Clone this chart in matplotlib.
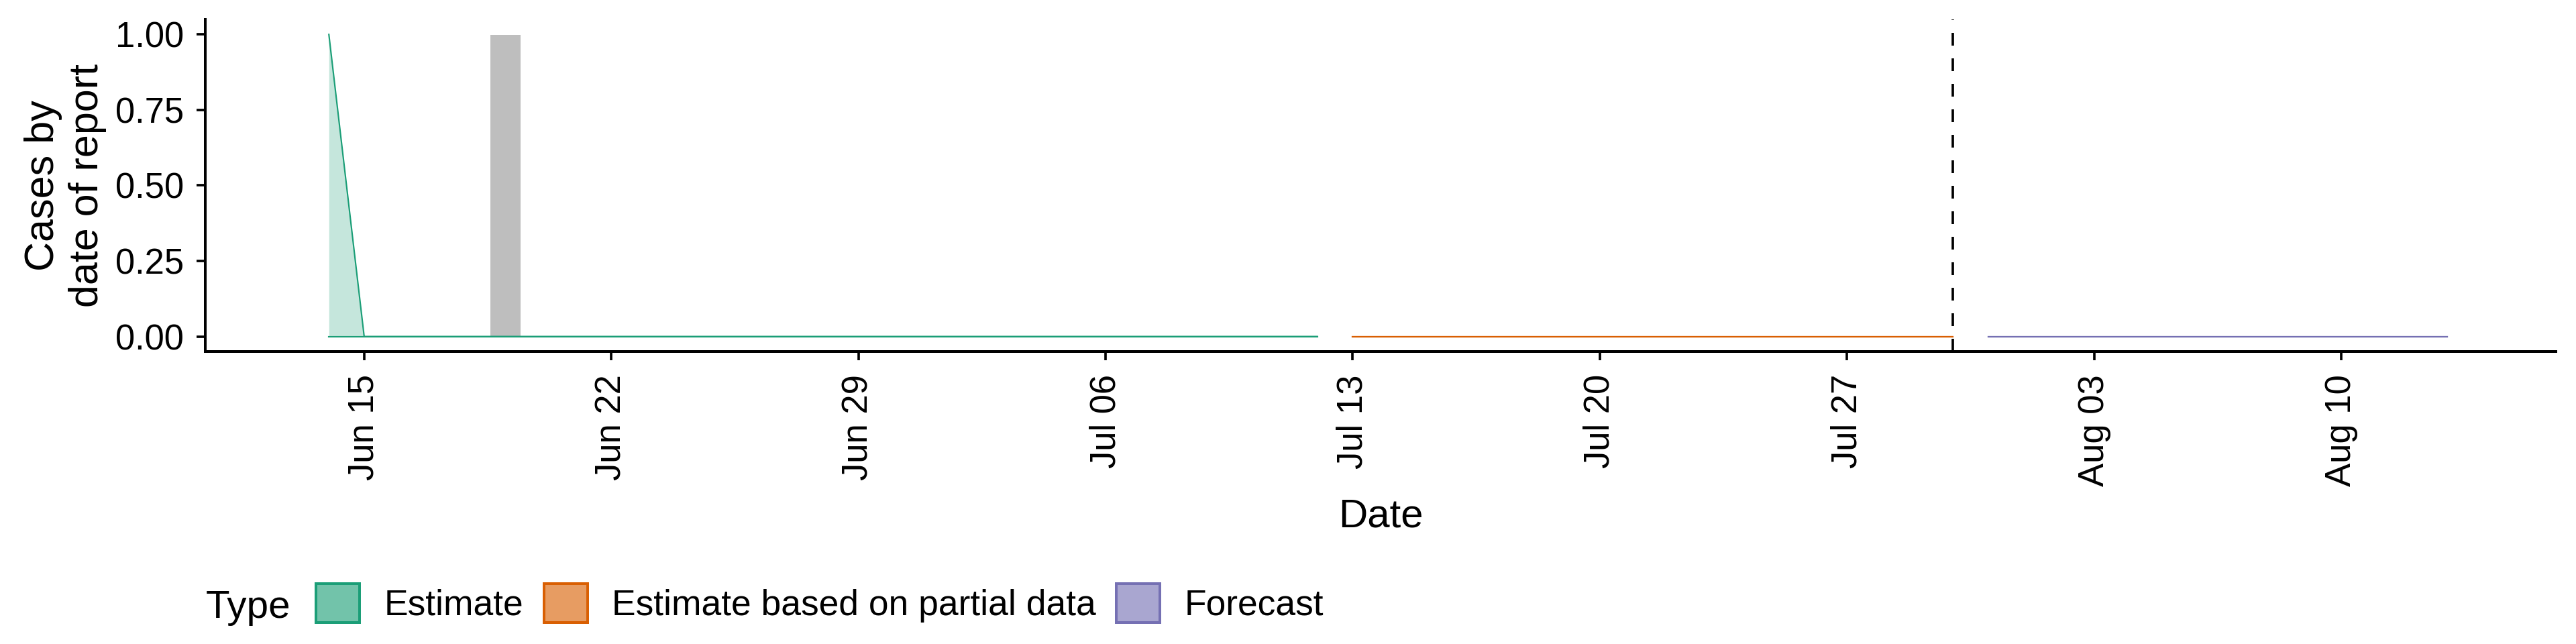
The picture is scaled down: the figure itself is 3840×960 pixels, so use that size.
import pandas as pd
import matplotlib
matplotlib.use("Agg")
import matplotlib.pyplot as plt
import matplotlib.dates as mdates
from matplotlib.colors import to_rgba
from matplotlib.patches import Patch

plt.rcParams["font.family"] = ["Liberation Sans", "DejaVu Sans"]
plt.rcParams["lines.scale_dashes"] = False

# ----------------------------------------------------------
# data
# ----------------------------------------------------------
types = ["Estimate", "Estimate based on partial data", "Forecast"]
type_colours = ["#1B9E77", "#D95F02", "#7570B3"]

# Estimate: Jun 14 - Jul 12
est_dates = pd.date_range("2020-06-14", "2020-07-12", freq="D")
est_upper = [1, 0, 0, 0, 0, 0, 0, 0, 0, 0,
             0, 0, 0, 0, 0, 0, 0, 0, 0, 0,
             0, 0, 0, 0, 0, 0, 0, 0, 0]
est_lower = [0, 0, 0, 0, 0, 0, 0, 0, 0, 0,
             0, 0, 0, 0, 0, 0, 0, 0, 0, 0,
             0, 0, 0, 0, 0, 0, 0, 0, 0]

# Estimate based on partial data: Jul 13 - Jul 30
partial_dates = pd.date_range("2020-07-13", "2020-07-30", freq="D")
partial_upper = [0, 0, 0, 0, 0, 0, 0, 0, 0,
                 0, 0, 0, 0, 0, 0, 0, 0, 0]
partial_lower = [0, 0, 0, 0, 0, 0, 0, 0, 0,
                 0, 0, 0, 0, 0, 0, 0, 0, 0]

# Forecast: Jul 31 - Aug 13
forecast_dates = pd.date_range("2020-07-31", "2020-08-13", freq="D")
forecast_upper = [0, 0, 0, 0, 0, 0, 0,
                  0, 0, 0, 0, 0, 0, 0]
forecast_lower = [0, 0, 0, 0, 0, 0, 0,
                  0, 0, 0, 0, 0, 0, 0]

# reported cases (grey bars)
report_dates = pd.to_datetime(["2020-06-19"])
report_cases = [1]

forecast_date = pd.Timestamp("2020-07-30")

y_ticks = [0, 0.25, 0.5, 0.75, 1.0]
x_ticks = pd.date_range("2020-06-15", "2020-08-10", freq="7D")

# ----------------------------------------------------------
# plot
# ----------------------------------------------------------
fig = plt.figure(figsize=(16, 4), dpi=240)
ax = fig.add_axes([0.0797, 0.454, 0.9125, 0.516])

ax.bar(report_dates, report_cases, width=0.9, color="#BEBEBE",
       edgecolor="white", linewidth=0.6, zorder=1)

series = [
    (est_dates, est_lower, est_upper),
    (partial_dates, partial_lower, partial_upper),
    (forecast_dates, forecast_lower, forecast_upper),
]
for (dates, lower, upper), colour in zip(series, type_colours):
    ax.fill_between(dates, lower, upper, color=colour, alpha=0.25,
                    linewidth=0, zorder=2)
    ax.plot(dates, upper, color=colour, linewidth=0.65, zorder=3)
    ax.plot(dates, lower, color=colour, linewidth=0.65, zorder=3)

ax.axvline(forecast_date, color="black", linewidth=1.1,
           linestyle=(0, (5.7, 5.7)), zorder=4)

ax.set_xlim(pd.Timestamp("2020-06-10 12:00"), pd.Timestamp("2020-08-16 02:00"))
ax.set_ylim(-0.05, 1.05)
ax.set_yticks(y_ticks)
ax.yaxis.set_major_formatter(plt.FormatStrFormatter("%.2f"))
ax.set_xticks(x_ticks)
ax.xaxis.set_major_formatter(mdates.DateFormatter("%b %d"))
plt.setp(ax.get_xticklabels(), rotation=90)

for side in ["top", "right"]:
    ax.spines[side].set_visible(False)
for side in ["left", "bottom"]:
    ax.spines[side].set_linewidth(1.2)
ax.tick_params(axis="both", direction="out", length=3.9, width=1.1,
               labelsize=15.8, colors="black")
ax.tick_params(axis="x", pad=6.3)
ax.tick_params(axis="y", pad=5.7)

ax.set_xlabel("Date", fontsize=18, va="baseline")
ax.xaxis.set_label_coords(0.5, -0.527)
ax.set_ylabel("Cases by\ndate of report", fontsize=18.3, linespacing=1.2,
              multialignment="center")
ax.yaxis.set_label_coords(-0.0595, 0.5)
ax.yaxis.label.set_va("center")

# legend along the bottom
handles = [Patch(facecolor=to_rgba(c, 0.62), edgecolor=c, linewidth=1.2)
           for c in type_colours]
fig.legend(handles, types, loc="center left", bbox_to_anchor=(0.1227, 0.0635),
           ncol=3, frameon=False, fontsize=16, borderpad=0, borderaxespad=0,
           handlelength=1.22, handleheight=1.31, handletextpad=0.69,
           columnspacing=0.56)
fig.text(0.08, 0.0406, "Type", fontsize=17.5, va="baseline", ha="left")

fig.savefig("out.png", dpi=240)
